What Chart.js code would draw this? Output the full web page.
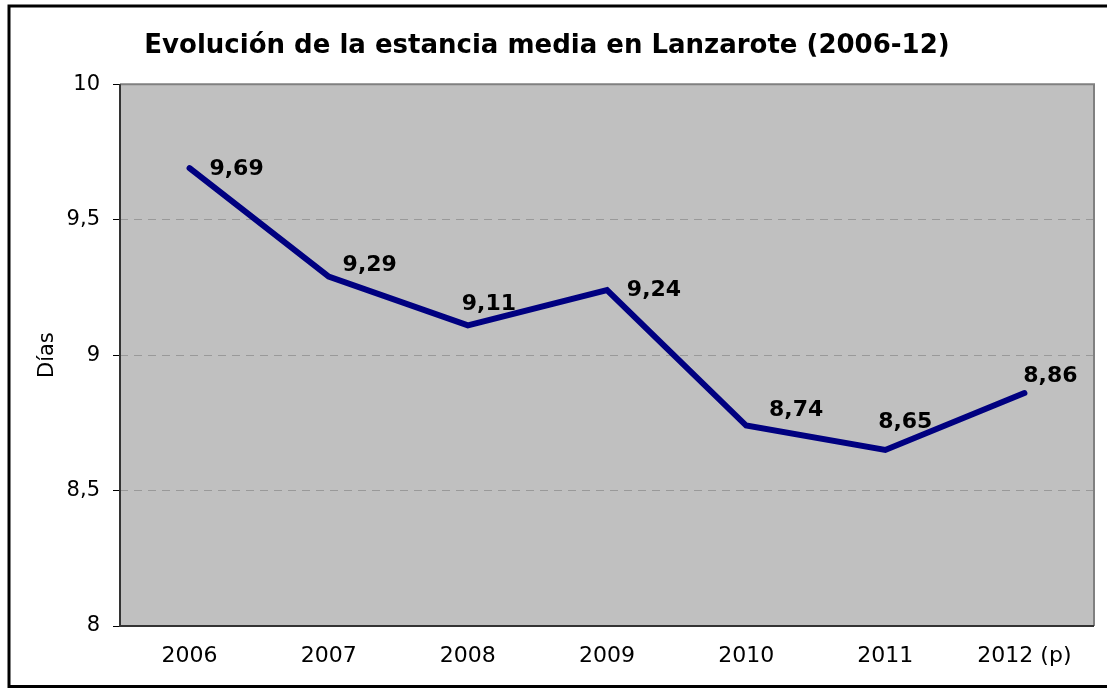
<!DOCTYPE html>
<html>
<head>
<meta charset="utf-8">
<title>Estancia media Lanzarote</title>
<script src="https://cdn.jsdelivr.net/npm/chart.js@4"></script>
<style>
  html, body { margin: 0; padding: 0; background: #fff; }
  canvas { display: block; }
</style>
</head>
<body>
<canvas id="estancia" width="1107" height="688"></canvas>
<script>
// datos
const years = ['2006', '2007', '2008', '2009', '2010', '2011', '2012 (p)'];
const stayDays = [9.69, 9.29, 9.11, 9.24, 8.74, 8.65, 8.86];
const yTicks = [8, 8.5, 9, 9.5, 10];

// desplazamiento de cada etiqueta respecto a su punto (px)
const labelOffsets = [[47, 1], [41, -11], [21, -21], [47, 0], [50, -15], [20, -28], [26, -17]];

const fmt = v => String(v).replace('.', ',');
const fontFamily = "'DejaVu Sans', Verdana, sans-serif";

// fondo gris, marco del area y borde exterior
const frame = {
    id: 'frame',
    beforeDraw(chart) {
        const {ctx, chartArea: a} = chart;
        ctx.save();
        ctx.fillStyle = '#fff';
        ctx.fillRect(0, 0, chart.width, chart.height);
        ctx.fillStyle = '#c0c0c0';
        ctx.fillRect(a.left, a.top, a.right - a.left, a.bottom - a.top);
        ctx.strokeStyle = '#000';
        ctx.lineWidth = 3;
        ctx.strokeRect(9, 6, 1100, 680.5);
        ctx.restore();
    },
    beforeDatasetsDraw(chart) {
        const {ctx, chartArea: a} = chart;
        ctx.save();
        ctx.lineWidth = 2;
        ctx.strokeStyle = '#808080';
        ctx.beginPath();
        ctx.moveTo(a.left, a.top);
        ctx.lineTo(a.right, a.top);
        ctx.lineTo(a.right, a.bottom);
        ctx.stroke();
        ctx.strokeStyle = '#333';
        ctx.beginPath();
        ctx.moveTo(a.left, a.top);
        ctx.lineTo(a.left, a.bottom);
        ctx.lineTo(a.right, a.bottom);
        ctx.stroke();
        ctx.restore();
    },
    afterDatasetsDraw(chart) {
        const {ctx} = chart;
        const meta = chart.getDatasetMeta(0);
        ctx.save();
        ctx.font = 'bold 22px ' + fontFamily;
        ctx.fillStyle = '#000';
        ctx.textAlign = 'center';
        ctx.textBaseline = 'middle';
        meta.data.forEach((pt, i) => {
            const off = labelOffsets[i];
            ctx.fillText(fmt(stayDays[i]), pt.x + off[0], pt.y + off[1]);
        });
        ctx.restore();
    }
};

new Chart(document.getElementById('estancia'), {
    type: 'line',
    data: {
        labels: years,
        datasets: [{
            data: stayDays,
            borderColor: '#000080',
            borderWidth: 6,
            borderCapStyle: 'round',
            borderJoinStyle: 'miter',
            pointRadius: 0,
            tension: 0,
            fill: false
        }]
    },
    options: {
        responsive: false,
        devicePixelRatio: 1,
        animation: false,
        layout: { padding: { left: 0, right: 13, top: 0, bottom: 0 } },
        plugins: {
            legend: { display: false },
            tooltip: { enabled: false },
            title: {
                display: true,
                text: 'Evolución de la estancia media en Lanzarote (2006-12)',
                color: '#000',
                font: { family: fontFamily, size: 26, weight: 'bold' },
                padding: { top: 31, bottom: 22 }
            }
        },
        scales: {
            x: {
                offset: true,
                grid: { display: false, drawTicks: false },
                border: { display: false },
                ticks: {
                    color: '#000',
                    padding: 17,
                    maxRotation: 0,
                    font: { family: fontFamily, size: 22 }
                },
                afterFit(scale) { scale.height = 62; }
            },
            y: {
                min: 8,
                max: 10,
                afterBuildTicks(scale) {
                    scale.ticks = yTicks.map(v => ({ value: v }));
                },
                grid: {
                    color: c => (c.tick && (c.tick.value === 8 || c.tick.value === 10)) ? 'rgba(0,0,0,0)' : '#999',
                    lineWidth: 1,
                    tickColor: '#000',
                    tickLength: 7,
                    tickWidth: 1
                },
                border: { display: false, dash: [8, 6] },
                ticks: {
                    color: '#000',
                    padding: 13,
                    font: { family: fontFamily, size: 21 },
                    callback: v => fmt(v)
                },
                title: {
                    display: true,
                    text: 'Días',
                    color: '#000',
                    font: { family: fontFamily, size: 21 },
                    padding: { top: 35, bottom: 0 }
                },
                afterFit(scale) { scale.width = 120; }
            }
        }
    },
    plugins: [frame]
});
</script>
</body>
</html>
